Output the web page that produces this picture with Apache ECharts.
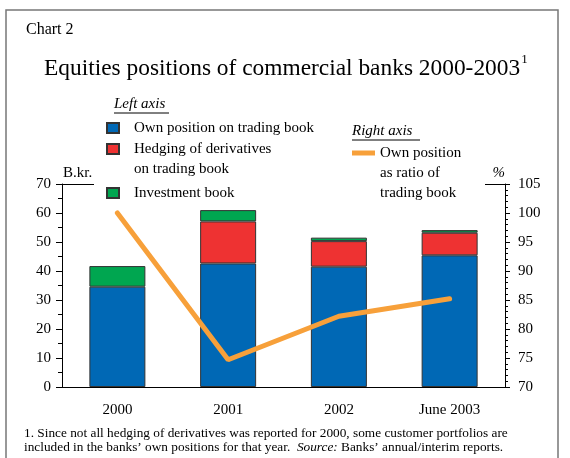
<!DOCTYPE html>
<html>
<head>
<meta charset="utf-8">
<script src="https://cdn.jsdelivr.net/npm/echarts@6/dist/echarts.min.js"></script>
<style>
html, body { margin: 0; padding: 0; background: #fff; }
#chart { width: 570px; height: 458px; }
</style>
</head>
<body>
<div id="chart"></div>
<script>
var categories = ['2000', '2001', '2002', 'June 2003'];
var ownPosition = [34.6, 42.6, 41.5, 45.4];
var hedging = [null, 14.5, 8.8, 7.8];
var investment = [7.1, 3.9, 1.2, 0.9];
var ownRatio = [100, 74.7, 82.2, 85.2];

var leftAxisTicks = { min: 0, max: 70, interval: 10 };
var rightAxisTicks = { min: 70, max: 105, interval: 5 };

var names = {
    own: 'Own position on trading book',
    hedge: 'Hedging of derivatives\non trading book',
    inv: 'Investment book',
    ratio: 'Own position\nas ratio of\ntrading book'
};

var serif = 'Liberation Serif';
var colors = { blue: '#0068b5', red: '#ee3232', green: '#00a650', orange: '#f7a03a' };

var chartDiv = document.getElementById('chart');
var myChart = echarts.init(chartDiv);

var legendText = { fontFamily: serif, fontSize: 15, color: '#000', lineHeight: 20 };

// legend text is centred on the icon, so pad multi-line names with blank lines on top
// to keep the icon next to the first line
var firstLineOnIcon = function(name) {
    var lines = name.split('\n').length;
    var pad = '';
    for (var i = 1; i < lines; i++) pad += ' \n';
    return pad + name;
};

var barStyle = function(c) {
    return { color: c, borderColor: '#333', borderWidth: 1 };
};

var barLegend = function(name, top) {
    return {
        data: [{ name: name, icon: 'rect' }], left: 106, top: top, padding: 0, orient: 'vertical',
        itemWidth: 12, itemHeight: 10, selectedMode: false,
        formatter: firstLineOnIcon,
        textStyle: Object.assign({ padding: [0, 0, 0, 10] }, legendText)
    };
};

var option = {
    animation: false,
    backgroundColor: '#fff',
    textStyle: { fontFamily: serif },
    grid: { left: 62, right: 65, top: 184, bottom: 71 },
    legend: [
        barLegend(names.own, 118),
        barLegend(names.hedge, 119),
        barLegend(names.inv, 183),
        {
            data: [{ name: names.ratio, icon: 'rect' }], left: 352, top: 103, padding: 0, orient: 'vertical',
            itemWidth: 23, itemHeight: 5, selectedMode: false,
            formatter: firstLineOnIcon,
            itemStyle: { color: colors.orange, borderWidth: 0 },
            textStyle: legendText
        }
    ],
    xAxis: {
        type: 'category',
        data: categories,
        axisLine: { lineStyle: { color: '#000', width: 1 } },
        axisTick: { alignWithLabel: true, length: 5, lineStyle: { color: '#000' } },
        axisLabel: { color: '#000', fontSize: 15, fontFamily: serif, margin: 16 }
    },
    yAxis: [
        {
            type: 'value',
            min: leftAxisTicks.min, max: leftAxisTicks.max, interval: leftAxisTicks.interval,
            name: 'B.kr.', nameLocation: 'end', nameGap: 3,
            nameTextStyle: { color: '#000', fontSize: 15, fontFamily: serif, align: 'left', padding: [0, 0, 0, 1] },
            axisLine: { show: true, lineStyle: { color: '#000', width: 1 } },
            axisTick: { show: true, length: 6, lineStyle: { color: '#000' } },
            minorTick: { show: true, splitNumber: 2, length: 4, lineStyle: { color: '#000' } },
            splitLine: { show: false },
            axisLabel: { color: '#000', fontSize: 15, fontFamily: serif, margin: 11 }
        },
        {
            type: 'value',
            position: 'right',
            min: rightAxisTicks.min, max: rightAxisTicks.max, interval: rightAxisTicks.interval,
            name: '%', nameLocation: 'end', nameGap: 3,
            nameTextStyle: { color: '#000', fontSize: 15, fontFamily: serif, align: 'right', fontStyle: 'italic' },
            axisLine: { show: true, lineStyle: { color: '#000', width: 1 } },
            axisTick: { show: true, length: 5, lineStyle: { color: '#000' } },
            minorTick: { show: true, splitNumber: 5, length: 3, lineStyle: { color: '#000' } },
            splitLine: { show: false },
            axisLabel: { color: '#000', fontSize: 15, fontFamily: serif, margin: 13 }
        }
    ],
    series: [
        { name: names.own, type: 'bar', stack: 'a', barWidth: 56, data: ownPosition, itemStyle: barStyle(colors.blue) },
        { name: names.hedge, type: 'bar', stack: 'a', data: hedging, itemStyle: barStyle(colors.red) },
        { name: names.inv, type: 'bar', stack: 'a', data: investment, itemStyle: barStyle(colors.green) },
        {
            name: names.ratio, type: 'line', yAxisIndex: 1, data: ownRatio,
            symbol: 'none', z: 5,
            lineStyle: { color: colors.orange, width: 5, cap: 'round' },
            itemStyle: { color: colors.orange }
        }
    ],
    graphic: [
        { type: 'rect', shape: { x: 6, y: 10, width: 552, height: 470 },
          style: { fill: 'none', stroke: '#777', lineWidth: 1.5 }, silent: true },
        { type: 'text', left: 26, top: 22,
          style: { text: 'Chart 2', font: '16px "Liberation Serif"', fill: '#000' } },
        { type: 'text', left: 44, top: 53,
          style: {
              text: '{t|Equities positions of commercial banks 2000-2003}{s|1}',
              fill: '#000',
              rich: {
                  t: { fontFamily: serif, fontSize: 23.4, lineHeight: 27, verticalAlign: 'bottom' },
                  s: { fontFamily: serif, fontSize: 13, lineHeight: 27, verticalAlign: 'top', padding: [0, 0, 8, 1] }
              }
          } },
        { type: 'text', left: 114, top: 97,
          style: { text: 'Left axis', font: 'italic 15px "Liberation Serif"', fill: '#000' } },
        { type: 'line', shape: { x1: 114, y1: 113, x2: 169, y2: 113 }, style: { stroke: '#000', lineWidth: 1 } },
        { type: 'text', left: 352, top: 124,
          style: { text: 'Right axis', font: 'italic 15px "Liberation Serif"', fill: '#000' } },
        { type: 'line', shape: { x1: 352, y1: 140, x2: 420, y2: 140 }, style: { stroke: '#000', lineWidth: 1 } },
        { type: 'line', shape: { x1: 56, y1: 184.5, x2: 94, y2: 184.5 }, style: { stroke: '#000', lineWidth: 1 } },
        { type: 'line', shape: { x1: 485, y1: 184.5, x2: 505, y2: 184.5 }, style: { stroke: '#000', lineWidth: 1 } },
        { type: 'text', left: 24, top: 427,
          style: {
              text: '1. Since not all hedging of derivatives was reported for 2000, some customer portfolios are\nincluded in the banks\u2019 own positions for that year.  {i|Source:} Banks\u2019 annual/interim reports.',
              font: '13.3px "Liberation Serif"', fill: '#000', lineHeight: 14,
              rich: { i: { fontFamily: serif, fontSize: 13.3, fontStyle: 'italic', lineHeight: 14 } }
          } }
    ]
};

myChart.setOption(option);
</script>
</body>
</html>
